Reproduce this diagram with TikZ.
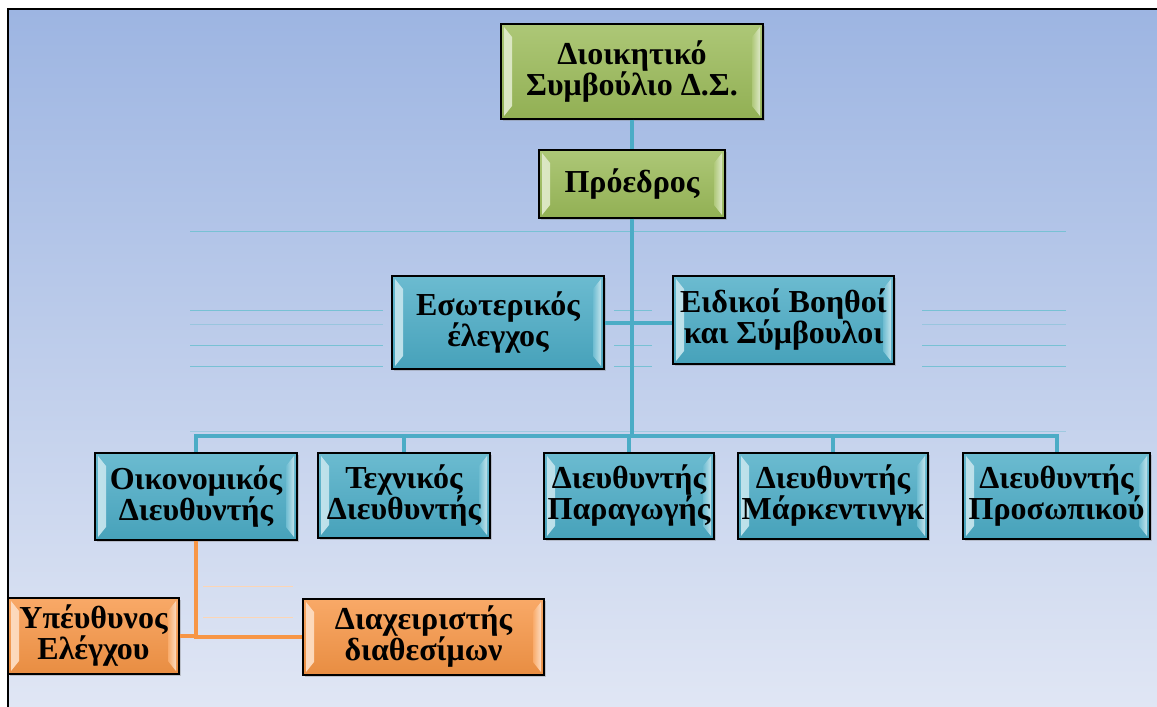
\documentclass[tikz,border=0pt]{standalone}
\usepackage{fontspec}
\setmainfont{Liberation Serif}
\usepackage{tikz}
\usetikzlibrary{shadows}
\definecolor{orgGreen}{HTML}{9BBB59}
\definecolor{orgBlue}{HTML}{4BACC6}
\definecolor{orgOrange}{HTML}{F79646}
\definecolor{bgTop}{HTML}{9DB5E2}
\definecolor{bgBot}{HTML}{E0E6F4}
\tikzset{
  orgbox/.style={draw=black, line width=1.4pt, top color=#1!82!white,
                 bottom color=#1!94!black, align=center, inner sep=0pt,
                 font=\fontsize{32}{31}\selectfont\bfseries,
                 drop shadow={shadow xshift=2pt, shadow yshift=-2pt, opacity=0.35},
                 path picture={
                   \shade[left color=#1!35!white, right color=#1!80!white]
                     ([shift={(3pt,-3pt)}]path picture bounding box.north west)
                     -- ([shift={(11pt,-13pt)}]path picture bounding box.north west)
                     -- ([shift={(11pt,13pt)}]path picture bounding box.south west)
                     -- ([shift={(3pt,3pt)}]path picture bounding box.south west) -- cycle;
                   \shade[left color=#1!80!white, right color=#1!35!white]
                     ([shift={(-3pt,-3pt)}]path picture bounding box.north east)
                     -- ([shift={(-11pt,-13pt)}]path picture bounding box.north east)
                     -- ([shift={(-11pt,13pt)}]path picture bounding box.south east)
                     -- ([shift={(-3pt,3pt)}]path picture bounding box.south east) -- cycle;
                 }},
  wire/.style={draw=orgBlue, line width=4pt},
  owire/.style={draw=orgOrange, line width=4pt},
  ghost/.style={draw=orgBlue!75!white, line width=0.7pt},
  oghost/.style={draw=orgOrange!40!white, line width=0.7pt}
}
\begin{document}
\begin{tikzpicture}[x=1pt,y=-1pt]
  \useasboundingbox (0,0) rectangle (1157,707);
  \shade[top color=bgTop, bottom color=bgBot] (8,9) rectangle (1157,707);
  \draw[line width=2pt] (8,707) -- (8,9) -- (1157,9);

  \draw[ghost] (190,231) -- (1066,231);
  \draw[ghost, draw opacity=0.5] (190,431) -- (1066,431);
  \foreach \y in {310,345,366} {
    \draw[ghost] (190,\y) -- (383,\y);
    \draw[ghost] (614,\y) -- (652,\y);
    \draw[ghost] (922,\y) -- (1066,\y);
  }
  \draw[ghost, draw opacity=0.5] (190,324) -- (383,324);
  \draw[ghost, draw opacity=0.5] (922,324) -- (1066,324);
  \draw[oghost] (203,586) -- (293,586);
  \draw[oghost] (203,617) -- (293,617);

  \node[orgbox=orgGreen, minimum width=262pt, minimum height=95pt] (board) at (632,71.5) {Διοικητικό\\Συμβούλιο Δ.Σ.};
  \node[orgbox=orgGreen, minimum width=186pt, minimum height=68pt] (pres) at (632,184) {Πρόεδρος};
  \node[orgbox=orgBlue, minimum width=212pt, minimum height=93pt] (inner) at (498,322.5) {Εσωτερικός\\έλεγχος};
  \node[orgbox=orgBlue, minimum width=221pt, minimum height=88pt] (advisers) at (783.5,320) {Ειδικοί Βοηθοί\\και Σύμβουλοι};
  \node[orgbox=orgBlue, minimum width=202pt, minimum height=87pt] (fin) at (196,496.5) {Οικονομικός\\Διευθυντής};
  \node[orgbox=orgBlue, minimum width=172pt, minimum height=85pt] (tech) at (404,495.5) {Τεχνικός\\Διευθυντής};
  \node[orgbox=orgBlue, minimum width=170pt, minimum height=86pt] (prod) at (629,496) {Διευθυντής\\Παραγωγής};
  \node[orgbox=orgBlue, minimum width=190pt, minimum height=86pt] (mkt) at (833,496) {Διευθυντής\\Μάρκεντινγκ};
  \node[orgbox=orgBlue, minimum width=187pt, minimum height=86pt] (hr) at (1056.5,496) {Διευθυντής\\Προσωπικού};
  \node[orgbox=orgOrange, minimum width=171pt, minimum height=76pt] (ctrl) at (93.5,636) {Υπέυθυνος\\Ελέγχου};
  \node[orgbox=orgOrange, minimum width=241pt, minimum height=76pt] (cash) at (423.5,637) {Διαχειριστής\\διαθεσίμων};

  \coordinate (bus) at (632,436);
  \draw[wire] (board.south) -- (pres.north);
  \draw[wire] (pres.south) -- (bus);
  \draw[wire] (inner.east) -- (inner.east -| advisers.west);
  \foreach \n in {fin,tech,prod,mkt,hr}
    \draw[wire] (bus) -| (\n.north);
  \draw[owire] (fin.south) |- (cash.west);
  \draw[owire] (ctrl.east) -- (ctrl.east -| fin.south);
\end{tikzpicture}
\end{document}
